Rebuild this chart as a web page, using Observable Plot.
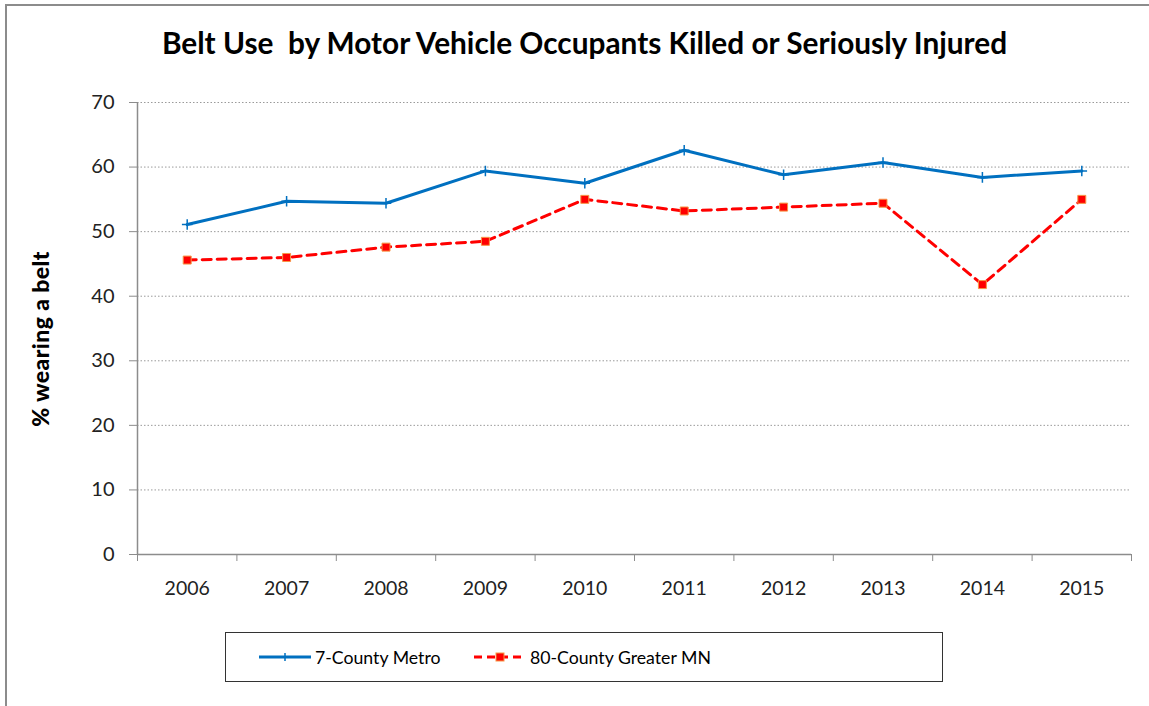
<!DOCTYPE html>
<html>
<head>
<meta charset="utf-8">
<script src="https://cdn.jsdelivr.net/npm/d3@7"></script>
<script src="https://cdn.jsdelivr.net/npm/@observablehq/plot@0.6"></script>
<style>
  html, body { margin: 0; padding: 0; background: #fff; }
  #wrap { position: relative; width: 1149px; height: 706px; overflow: hidden; font-family: Lato, "Open Sans", sans-serif; }
  #frame { position: absolute; left: 5px; top: 4px; width: 1200px; height: 800px; border-left: 2px solid #8c8c8c; border-top: 2px solid #8c8c8c; }
  #title { position: absolute; left: 0; width: 1169px; top: 25px; text-align: center; font-weight: bold; font-size: 29.8px; color: #000; }
  #ylabel { position: absolute; left: 40px; top: 339px; transform: translate(-50%, -50%) rotate(-90deg); font-weight: 900; font-size: 23px; letter-spacing: 0.4px; white-space: nowrap; }
  #chart { position: absolute; left: 0; top: 0; }
  #legend { position: absolute; left: 225px; top: 632px; width: 716px; height: 48px; border: 1.5px solid #333; font-size: 17.7px; color: #000; }
  .item { display: flex; align-items: center; position: absolute; top: 0; height: 48px; }
</style>
</head>
<body>
<div id="wrap">
  <div id="frame"></div>
  <div id="chart"></div>
  <div id="title">Belt Use&nbsp; by Motor Vehicle Occupants Killed or Seriously Injured</div>
  <div id="ylabel">% wearing a belt</div>
  <div id="legend">
    <div class="item" style="left:32px">
      <svg width="54" height="14"><line x1="1" x2="53" y1="7" y2="7" stroke="#0070c0" stroke-width="3"/><path d="M27,3V11M24,7H30" stroke="#0070c0" stroke-width="1.5"/></svg>
      <span style="margin-left:3px">7-County Metro</span>
    </div>
    <div class="item" style="left:247px">
      <svg width="54" height="14"><line x1="1" x2="53" y1="7" y2="7" stroke="#ff0000" stroke-width="3" stroke-dasharray="8,5"/><rect x="23" y="3" width="8" height="8" fill="#ff0000" stroke="#f79646" stroke-width="1"/></svg>
      <span style="margin-left:3px">80-County Greater MN</span>
    </div>
  </div>
</div>
<script>
const years = [2006, 2007, 2008, 2009, 2010, 2011, 2012, 2013, 2014, 2015];
const metro = [51.1, 54.7, 54.4, 59.4, 57.5, 62.6, 58.8, 60.7, 58.4, 59.4];
const greater = [45.6, 46.0, 47.6, 48.5, 55.0, 53.2, 53.8, 54.4, 41.8, 55.0];
const yTicks = [0, 10, 20, 30, 40, 50, 60, 70];
const xBounds = [2005.5, 2006.5, 2007.5, 2008.5, 2009.5, 2010.5, 2011.5, 2012.5, 2013.5, 2014.5, 2015.5];

const metroData = years.map((y, i) => ({year: y, value: metro[i]}));
const greaterData = years.map((y, i) => ({year: y, value: greater[i]}));

const chart = Plot.plot({
  width: 1149,
  height: 706,
  marginLeft: 137,
  marginRight: 18,
  marginTop: 102,
  marginBottom: 152,
  style: {fontFamily: "Lato, 'Open Sans', sans-serif", fontSize: "20px", color: "#000", background: "transparent"},
  x: {type: "linear", domain: [2005.5, 2015.5]},
  y: {domain: [0, 70]},
  marks: [
    Plot.ruleY(yTicks.filter(d => d > 0), {stroke: "#9a9a9a", strokeWidth: 1, strokeDasharray: "1.5,2", strokeOpacity: 1}),
    Plot.ruleY([0], {stroke: "#8c8c8c", strokeWidth: 1.5}),
    Plot.ruleX([2005.5], {y1: 0, y2: 70, stroke: "#8c8c8c", strokeWidth: 1.5}),
    Plot.axisY({ticks: yTicks, tickSize: 8, tickPadding: 15, stroke: "#8c8c8c", label: null, fontSize: 20, fill: "#222"}),
    Plot.axisX({ticks: xBounds, tickSize: 7, tickFormat: () => "", stroke: "#8c8c8c", label: null}),
    Plot.axisX({ticks: years, tickSize: 0, tickPadding: 27, tickFormat: d => String(d), label: null, fontSize: 19.5, fill: "#222"}),
    Plot.line(metroData, {x: "year", y: "value", stroke: "#0070c0", strokeWidth: 3}),
    Plot.dot(metroData, {x: "year", y: "value", symbol: "plus", r: 3.5, stroke: "#0070c0", strokeWidth: 1.5}),
    Plot.line(greaterData, {x: "year", y: "value", stroke: "#ff0000", strokeWidth: 3, strokeDasharray: "9,6"}),
    Plot.dot(greaterData, {x: "year", y: "value", symbol: "square", r: 4.5, fill: "#ff0000", stroke: "#f79646", strokeWidth: 1})
  ]
});
document.getElementById("chart").appendChild(chart);
</script>
</body>
</html>
